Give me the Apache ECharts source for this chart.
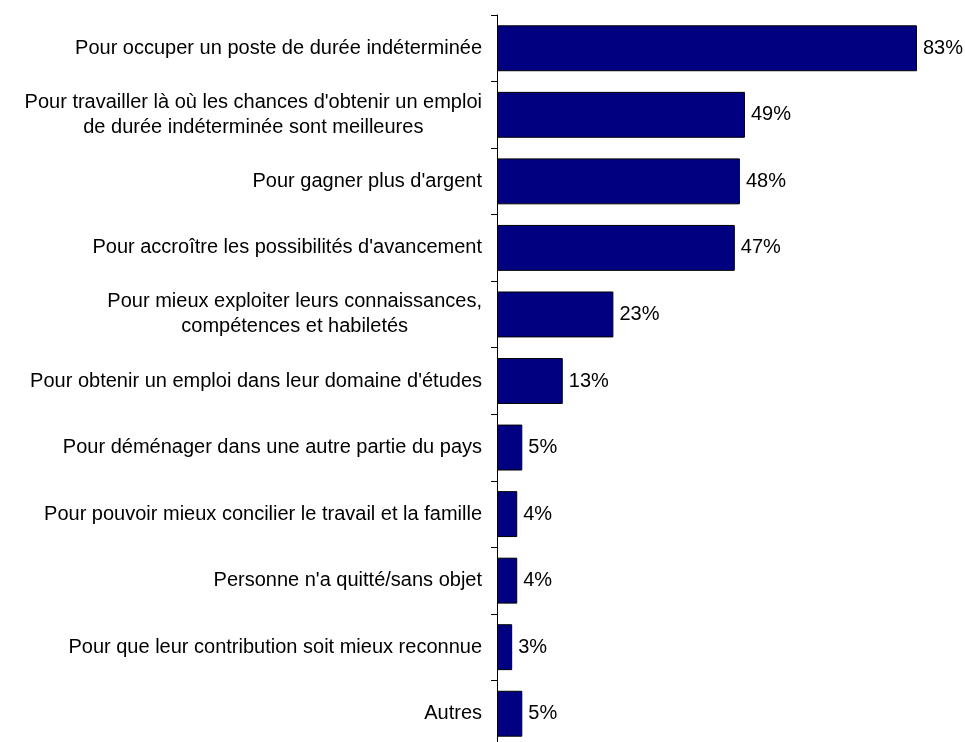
<!DOCTYPE html>
<html>
<head>
<meta charset="utf-8">
<script src="https://cdn.jsdelivr.net/npm/echarts@6/dist/echarts.min.js"></script>
<style>
  html, body { margin: 0; padding: 0; background: #ffffff; }
  #chart { width: 965px; height: 742px; }
</style>
</head>
<body>
<div id="chart"></div>
<script>
// Reasons, top to bottom
const categories = [
  "Pour occuper un poste de durée indéterminée",
  "Pour travailler là où les chances d'obtenir un emploi\nde durée indéterminée sont meilleures",
  "Pour gagner plus d'argent",
  "Pour accroître les possibilités d'avancement",
  "Pour mieux exploiter leurs connaissances,\ncompétences et habiletés",
  "Pour obtenir un emploi dans leur domaine d'études",
  "Pour déménager dans une autre partie du pays",
  "Pour pouvoir mieux concilier le travail et la famille",
  "Personne n'a quitté/sans objet",
  "Pour que leur contribution soit mieux reconnue",
  "Autres"
];
// Share of respondents (%)
const values = [83, 49, 48, 47, 23, 13, 5, 4, 4, 3, 5];

const chart = echarts.init(document.getElementById('chart'), null, { renderer: 'canvas' });

const FONT = 'Liberation Sans, Arial, sans-serif';
const FS = 20;

chart.setOption({
  animation: false,
  backgroundColor: '#ffffff',
  grid: {
    left: 497, top: 15, width: 506, height: 732,
    containLabel: false,
    outerBoundsMode: 'none'
  },
  xAxis: {
    type: 'value',
    min: 0,
    max: 100,
    show: false
  },
  yAxis: {
    type: 'category',
    inverse: true,
    data: categories,
    axisLine: { show: true, lineStyle: { color: '#000000', width: 1 } },
    axisTick: { show: true, length: 6, lineStyle: { color: '#000000', width: 1 } },
    splitLine: { show: false },
    axisLabel: {
      margin: 15,
      color: '#000000',
      fontFamily: FONT,
      fontSize: FS,
      formatter: function (v) {
        return v.split('\n').map(function (s) { return '{c|' + s + '}'; }).join('\n');
      },
      rich: {
        c: { align: 'center', fontFamily: FONT, fontSize: FS, color: '#000000', lineHeight: 25 }
      }
    }
  },
  series: [{
    type: 'bar',
    data: values,
    barCategoryGap: '31%',
    itemStyle: { color: '#000080', borderColor: '#000000', borderWidth: 1 },
    label: {
      show: true,
      position: 'right',
      distance: 6,
      formatter: '{c}%',
      color: '#000000',
      fontFamily: FONT,
      fontSize: FS
    }
  }]
});
</script>
</body>
</html>
